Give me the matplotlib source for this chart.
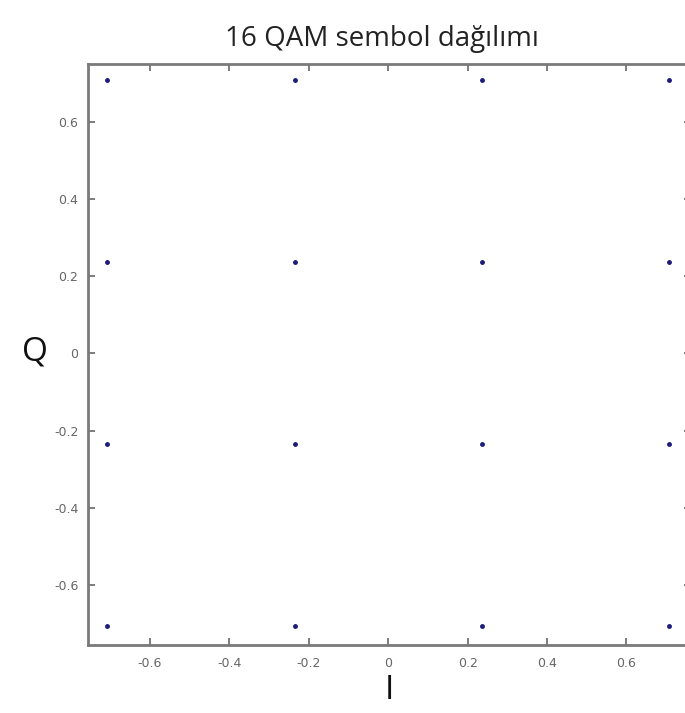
import matplotlib
matplotlib.use('Agg')
import matplotlib.pyplot as plt

# 16-QAM constellation levels (normalised)
levels = [-0.7071, -0.2357, 0.2357, 0.7071]
I_vals = [i for q in levels for i in levels]
Q_vals = [q for q in levels for i in levels]

xticks = [-0.6, -0.4, -0.2, 0, 0.2, 0.4, 0.6]
yticks = [-0.6, -0.4, -0.2, 0, 0.2, 0.4, 0.6]
tick_labels = ['-0.6', '-0.4', '-0.2', '0', '0.2', '0.4', '0.6']

fig = plt.figure(figsize=(6.85, 7.13), dpi=100)
ax = fig.add_axes([0.1285, 0.0954, 0.8800, 0.8146])

ax.plot(I_vals, Q_vals, '.', color='#1c1c7a', markersize=5)

ax.set_xlim(-0.756, 0.762)
ax.set_ylim(-0.755, 0.749)
ax.set_xticks(xticks)
ax.set_yticks(yticks)
ax.set_xticklabels(tick_labels)
ax.set_yticklabels(tick_labels)
ax.tick_params(direction='in', length=5, width=1.2, color='#666666',
               labelcolor='#666666', labelsize=9,
               top=True, right=True)
ax.tick_params(axis='x', pad=9)
ax.tick_params(axis='y', pad=7)
for s in ax.spines.values():
    s.set_color('#7a7a7a')
    s.set_linewidth(2)
ax.spines['right'].set_visible(False)

fig.text(0.558, 0.946, '16 QAM sembol dağılımı', ha='center', va='center',
         fontsize=20, family='Open Sans', color='#222222')
fig.text(0.051, 0.506, 'Q', ha='center', va='center', fontsize=24,
         family='Open Sans', color='#111111')
fig.text(0.568, 0.032, 'I', ha='center', va='center', fontsize=24,
         family='Open Sans', color='#111111')

plt.savefig('out.png', dpi=100)
